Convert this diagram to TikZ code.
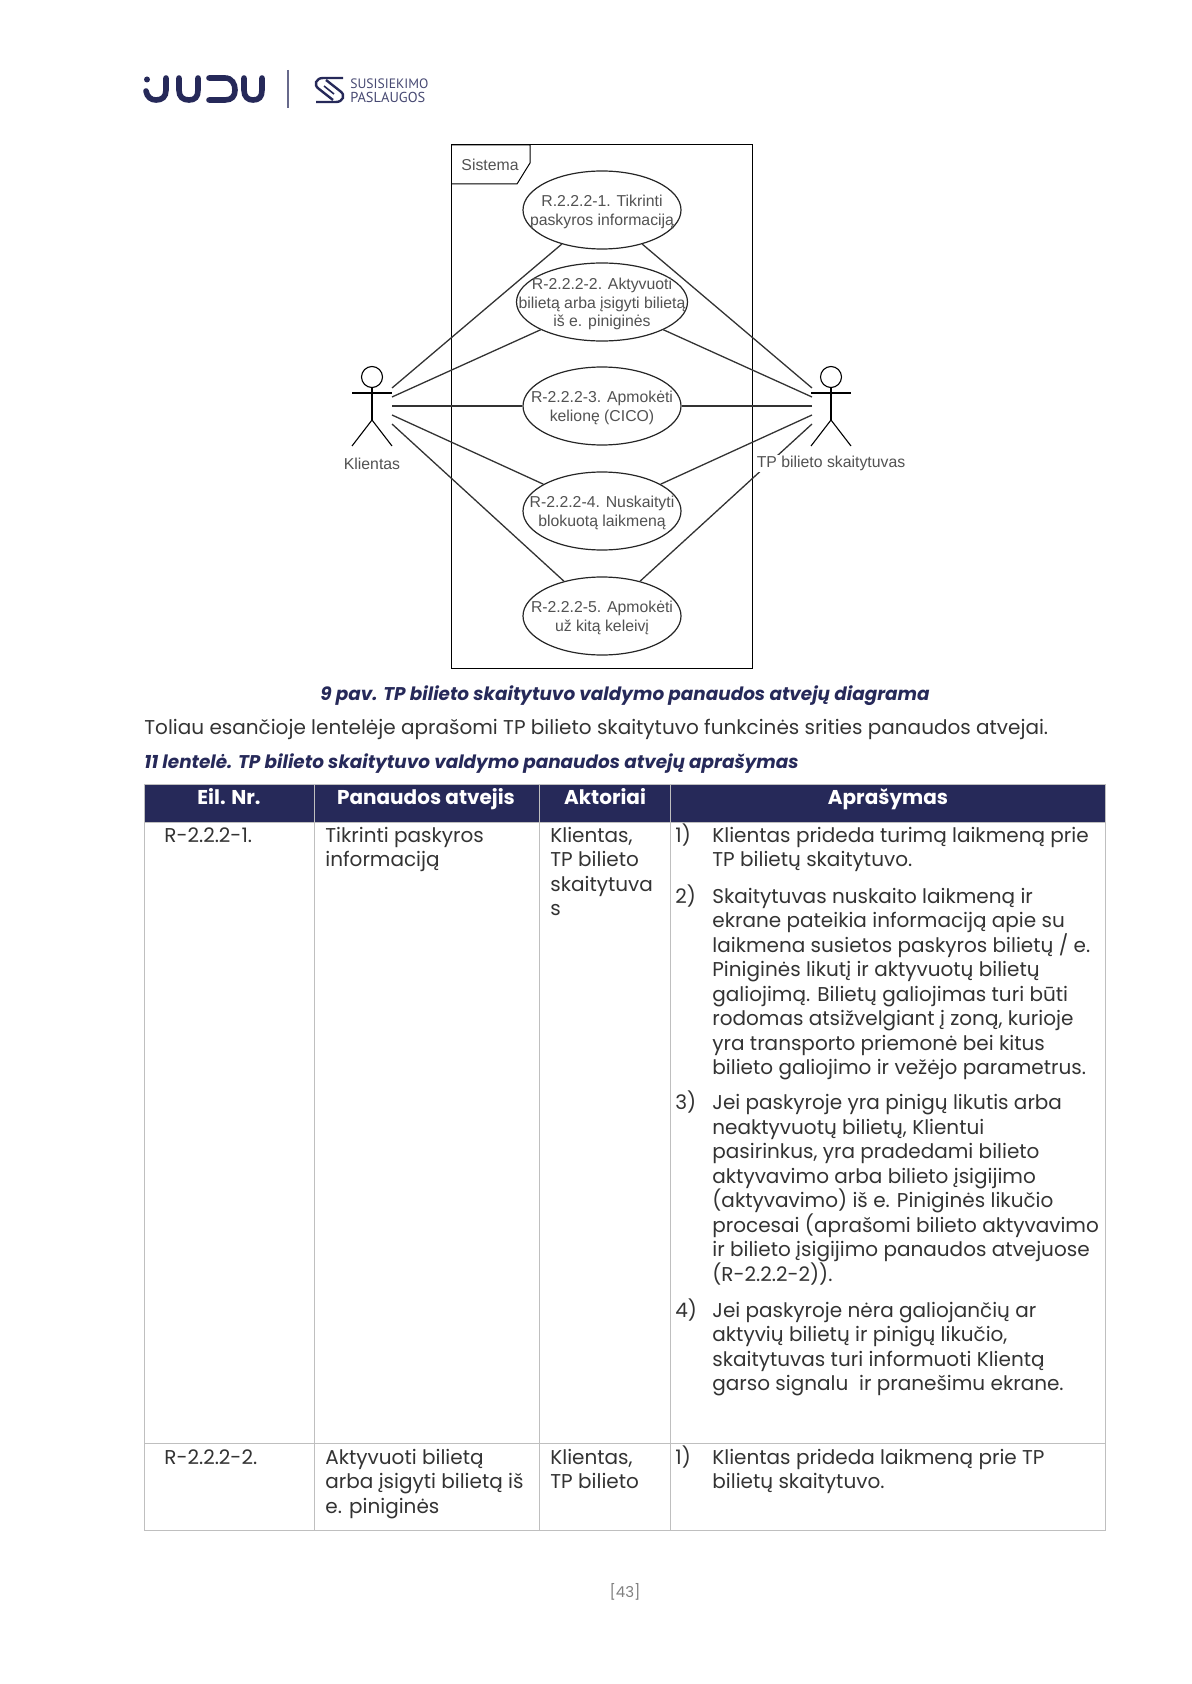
\documentclass[tikz,border=0pt]{standalone}
\usepackage{fontspec}
\setmainfont{Poppins}
\newfontfamily\diagfont{Liberation Sans}
\newfontfamily\logofont{PT Sans}
\usetikzlibrary{positioning}
\usetikzlibrary{shapes.geometric}
\definecolor{mnavy}{rgb}{0.149, 0.161, 0.349}
\definecolor{mgrid}{rgb}{0.75, 0.75, 0.75}
\definecolor{mtext}{rgb}{0.2, 0.2, 0.2}
\newcommand{\fl}{\rule{0pt}{10pt}}
\tikzset{usecase/.style = {draw=black!85, ellipse, fill=white, inner sep = 0, minimum width = 79pt, minimum height = 39pt, line width = 0.6pt}}
\tikzset{uctext/.style = {align=center, inner sep = 0, yshift=-1pt, text=black!68, font=\diagfont\fontsize{7.9}{9.2}\selectfont}}
\tikzset{actorname/.style = {inner sep = 0.5pt, fill=white, text=black!68, font=\diagfont\fontsize{7.9}{9.2}\selectfont}}
\tikzset{limb/.style = {line width = 0.55pt}}
\tikzset{link/.style = {line width = 0.65pt, black!80}}
\tikzset{logoline/.style = {mnavy, line width = 2.8pt, line cap=round}}
\tikzset{cell/.style = {anchor=north west, inner sep = 0, align=left, text=mtext, font=\fontsize{10}{12.25}\selectfont}}
\tikzset{headcell/.style = {anchor=base, inner sep = 0, text=white, font=\bfseries\fontsize{10}{12}\selectfont}}
\tikzset{capt/.style = {anchor=base, inner sep = 0, text=mnavy, font=\bfseries\itshape\fontsize{9.2}{11}\selectfont}}

\begin{document}
\begin{tikzpicture}[x=0.5pt, y=-0.5pt]
    \useasboundingbox (0,0) rectangle (1191,1684);

    % logo
    \fill[mnavy] (147,79.5) circle (3);
    \draw[logoline] (146,91) .. controls (147,97) and (151,100) .. (156,100) .. controls (162,100) and (166,97) .. (166,90) -- (166,78);
    \draw[logoline] (179,78) -- (179,90) .. controls (179,97) and (183,100) .. (189,100) .. controls (195,100) and (198,97) .. (198,90) -- (198,78);
    \draw[logoline] (209,78) -- (225,78) .. controls (232,78) and (235,84) .. (235,90) .. controls (235,96) and (232,100) .. (225,100) -- (209,100);
    \draw[logoline] (244,78) -- (244,90) .. controls (244,97) and (248,100) .. (253,100) .. controls (259,100) and (262,97) .. (262,90) -- (262,78);
    \draw[mnavy!70, line width=1pt] (288,70) -- (288,108);
    \draw[mnavy, line width=1.2pt] (343,78) -- (323,78) .. controls (316,78) and (313,85) .. (319,89) -- (333,100);
    \draw[mnavy, line width=1.2pt] (316,102) -- (336,102) .. controls (343,102) and (346,95) .. (340,91) -- (326,80);
    \draw[mnavy, line width=0.8pt] (324,86) -- (334,94);
    \node[inner sep=0, anchor=west, text=mnavy!85, font=\logofont\fontsize{6.8}{7}\selectfont] (logoa) at (350,83.5) {SUSISIEKIMO};
    \node[inner sep=0, anchor=west, text=mnavy!85, font=\logofont\fontsize{7.2}{7}\selectfont] (logob) at (350,97.5) {PASLAUGOS};

    % system frame
    \draw[line width=0.5pt] (451,145) rectangle (752,668);
    \draw[line width=0.5pt] (451,145) -- (530,145) -- (530,163) -- (517,184) -- (451,184);
    \node[inner sep=0, text=black!68, font=\diagfont\fontsize{7.9}{9.2}\selectfont] (sistema) at (490,164.5) {Sistema};

    \node[usecase, label={[uctext]center:{R.2.2.2-1. Tikrinti\\paskyros informaciją}}] (uc1) at (602,210) {};
    \node[usecase, minimum width=85.5pt, label={[uctext]center:{R-2.2.2-2. Aktyvuoti\\bilietą arba įsigyti bilietą\\iš e. piniginės}}] (uc2) at (602,302) {};
    \node[usecase, label={[uctext]center:{R-2.2.2-3. Apmokėti\\kelionę (CICO)}}] (uc3) at (602,406) {};
    \node[usecase, label={[uctext]center:{R-2.2.2-4. Nuskaityti\\blokuotą laikmeną}}] (uc4) at (602,511) {};
    \node[usecase, label={[uctext]center:{R-2.2.2-5. Apmokėti\\už kitą keleivį}}] (uc5) at (602,616) {};

    % actors
    \foreach \n/\x in {kl/372,tp/831}{
      \node[draw, circle, limb, inner sep=0, minimum size=10.5pt] (\n head) at (\x,377) {};
      \coordinate (\n hip) at (\x,420);
      \draw[limb] (\n head) -- (\n hip);
      \draw[limb] (\x-20,393) -- (\x+20,393);
      \draw[limb] (\x-20,446) -- (\n hip) -- (\x+20,446);
    }
    \foreach \i/\y in {1/388,2/397,3/406,4/415,5/424}{
      \coordinate (kl\i) at (392,\y);
      \coordinate (tp\i) at (812,\y);
      \draw[link] (kl\i) -- (uc\i);
      \draw[link] (tp\i) -- (uc\i);
    }
    \node[actorname] (klname) at (372,463.5) {Klientas};
    \node[actorname] (tpname) at (831,463.5) {TP bilieto skaitytuvas};

    % texts above the table
    \node[capt] (figcapt) at (625,700) {9 pav. TP bilieto skaitytuvo valdymo panaudos atvejų diagrama};
    \node[cell] (intro) at (144,714) {\fl Toliau esančioje lentelėje aprašomi TP bilieto skaitytuvo funkcinės srities panaudos atvejai.};
    \node[capt, anchor=base west] (tabcapt) at (144,768) {11 lentelė. TP bilieto skaitytuvo valdymo panaudos atvejų aprašymas};

    % table
    \fill[mnavy] (144,784) rectangle (1105,822);
    \draw[mgrid, line width=0.5pt] (144,784) rectangle (1105,1530);
    \draw[mgrid, line width=0.5pt] (144,822) -- (1105,822);
    \draw[mgrid, line width=0.5pt] (144,1443) -- (1105,1443);
    \foreach \x in {314,539,670}{
      \draw[mgrid, line width=0.5pt] (\x,784) -- (\x,1530);
    }
    \node[headcell] (heada) at (229,804) {Eil. Nr.};
    \node[headcell] (headb) at (426,804) {Panaudos atvejis};
    \node[headcell] (headc) at (605,804) {Aktoriai};
    \node[headcell] (headd) at (888,804) {Aprašymas};

    \node[cell] (ida) at (164,822) {\fl R-2.2.2-1.};
    \node[cell] (namea) at (325,822) {\fl Tikrinti paskyros\\informaciją};
    \node[cell] (acta) at (550,822) {\fl Klientas,\\TP bilieto\\skaitytuva\\s};
    \node[cell] (numa) at (675,822) {\fl 1)};
    \node[cell] (txta) at (712,822) {\fl Klientas prideda turimą laikmeną prie\\TP bilietų skaitytuvo.};
    \node[cell] (numb) at (675,883) {\fl 2)};
    \node[cell] (txtb) at (712,883) {\fl Skaitytuvas nuskaito laikmeną ir\\ekrane pateikia informaciją apie su\\laikmena susietos paskyros bilietų / e.\\Piniginės likutį ir aktyvuotų bilietų\\galiojimą. Bilietų galiojimas turi būti\\rodomas atsižvelgiant į zoną, kurioje\\yra transporto priemonė bei kitus\\bilieto galiojimo ir vežėjo parametrus.};
    \node[cell] (numc) at (675,1089.5) {\fl 3)};
    \node[cell] (txtc) at (712,1089.5) {\fl Jei paskyroje yra pinigų likutis arba\\neaktyvuotų bilietų, Klientui\\pasirinkus, yra pradedami bilieto\\aktyvavimo arba bilieto įsigijimo\\(aktyvavimo) iš e. Piniginės likučio\\procesai (aprašomi bilieto aktyvavimo\\ir bilieto įsigijimo panaudos atvejuose\\(R-2.2.2-2)).};
    \node[cell] (numd) at (675,1297) {\fl 4)};
    \node[cell] (txtd) at (712,1297) {\fl Jei paskyroje nėra galiojančių ar\\aktyvių bilietų ir pinigų likučio,\\skaitytuvas turi informuoti Klientą\\garso signalu\ \ ir pranešimu ekrane.};

    \node[cell] (idb) at (164,1444) {\fl R-2.2.2-2.};
    \node[cell] (nameb) at (325,1444) {\fl Aktyvuoti bilietą\\arba įsigyti bilietą iš\\e. piniginės};
    \node[cell] (actb) at (550,1444) {\fl Klientas,\\TP bilieto};
    \node[cell] (nume) at (675,1444) {\fl 1)};
    \node[cell] (txte) at (712,1444) {\fl Klientas prideda laikmeną prie TP\\bilietų skaitytuvo.};

    \node[inner sep=0, text=black!50, font=\fontsize{7.5}{9}\selectfont] (pageno) at (625,1592) {[43]};
  \end{tikzpicture}
\end{document}
